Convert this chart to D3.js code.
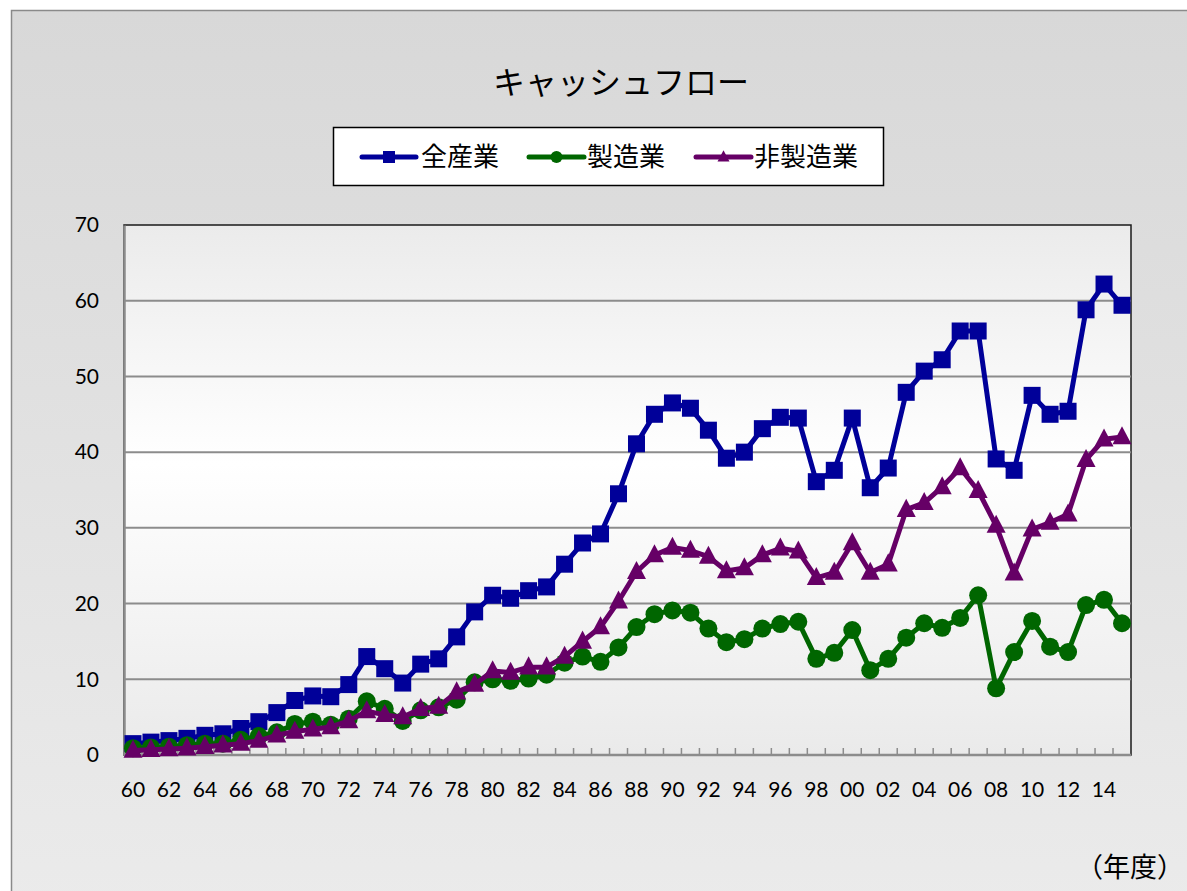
<!DOCTYPE html>
<html>
<head>
<meta charset="utf-8">
<script src="https://cdn.jsdelivr.net/npm/d3@7"></script>
<style>
  body { margin: 0; background: #ffffff; }
  svg { display: block; }
</style>
</head>
<body>
<script>
// 年度 1960 - 2015
const years = d3.range(1960, 2016);

const seriesNames = ["全産業", "製造業", "非製造業"];

const allIndustry = [
  1.5, 1.7, 1.9, 2.2, 2.6, 2.8, 3.5, 4.4, 5.6, 7.2,
  7.8, 7.7, 9.3, 13.0, 11.4, 9.5, 12.0, 12.7, 15.6, 18.9,
  21.1, 20.7, 21.7, 22.2, 25.2, 28.0, 29.2, 34.5, 41.1, 45.0,
  46.5, 45.8, 42.9, 39.2, 40.0, 43.1, 44.6, 44.5, 36.1, 37.6,
  44.5, 35.3, 37.9, 47.9, 50.7, 52.2, 56.0, 56.0, 39.1, 37.6,
  47.5, 45.0, 45.4, 58.8, 62.2, 59.4
];

const manufacturing = [
  0.9, 1.0, 1.1, 1.3, 1.5, 1.5, 2.0, 2.5, 3.0, 4.1,
  4.4, 4.0, 4.8, 7.1, 6.1, 4.5, 5.9, 6.3, 7.3, 9.6,
  10.0, 9.8, 10.1, 10.6, 12.2, 13.0, 12.3, 14.2, 16.9, 18.6,
  19.1, 18.8, 16.7, 14.9, 15.3, 16.7, 17.3, 17.6, 12.7, 13.5,
  16.5, 11.2, 12.7, 15.5, 17.4, 16.8, 18.1, 21.1, 8.8, 13.6,
  17.7, 14.3, 13.6, 19.8, 20.5, 17.4
];

const nonManufacturing = [
  0.6, 0.7, 0.8, 0.9, 1.1, 1.3, 1.5, 1.9, 2.6, 3.1,
  3.4, 3.7, 4.5, 5.8, 5.3, 5.0, 6.1, 6.4, 8.3, 9.3,
  11.1, 10.9, 11.6, 11.6, 13.0, 15.0, 16.9, 20.3, 24.2, 26.4,
  27.4, 27.0, 26.2, 24.3, 24.7, 26.4, 27.3, 26.9, 23.4, 24.1,
  28.0, 24.1, 25.2, 32.4, 33.3, 35.4, 37.9, 34.9, 30.3, 24.0,
  29.8, 30.7, 31.8, 39.0, 41.7, 42.0
];

const yTicks = [0, 10, 20, 30, 40, 50, 60, 70];

const width = 1187;
const height = 891;
const plot = { left: 124, right: 1131, top: 225, bottom: 755 };
const font = "Lato, 'Noto Sans CJK JP', sans-serif";
const jpFont = "'Noto Sans CJK JP', sans-serif";

const series = [
  { name: seriesNames[0], values: allIndustry, color: "#000099", marker: "square" },
  { name: seriesNames[1], values: manufacturing, color: "#006600", marker: "circle" },
  { name: seriesNames[2], values: nonManufacturing, color: "#660066", marker: "triangle" }
];

const svg = d3.select("body")
  .append("svg")
  .attr("width", width)
  .attr("height", height);

const defs = svg.append("defs");

const outerGrad = defs.append("linearGradient")
  .attr("id", "outerGrad")
  .attr("x1", 0).attr("y1", 0).attr("x2", 0).attr("y2", 1);
outerGrad.append("stop").attr("offset", "0%").attr("stop-color", "#d8d8d8");
outerGrad.append("stop").attr("offset", "100%").attr("stop-color", "#ececec");

const plotGrad = defs.append("linearGradient")
  .attr("id", "plotGrad")
  .attr("x1", 0).attr("y1", 0).attr("x2", 0).attr("y2", 1);
plotGrad.append("stop").attr("offset", "0%").attr("stop-color", "#ebebeb");
plotGrad.append("stop").attr("offset", "45%").attr("stop-color", "#ffffff");
plotGrad.append("stop").attr("offset", "100%").attr("stop-color", "#eaeaea");

// chart area
svg.append("rect")
  .attr("x", 11.5)
  .attr("y", 10.5)
  .attr("width", 1250)
  .attr("height", 950)
  .attr("fill", "url(#outerGrad)")
  .attr("stroke", "#8a8a8a")
  .attr("stroke-width", 1.5);

// title
svg.append("text")
  .attr("x", 621)
  .attr("y", 94)
  .attr("text-anchor", "middle")
  .attr("font-family", jpFont)
  .attr("font-size", 32)
  .attr("fill", "#000")
  .text("キャッシュフロー");

// scales
const x = d3.scaleBand()
  .domain(years)
  .range([plot.left, plot.right])
  .padding(0);

const y = d3.scaleLinear()
  .domain([0, 70])
  .range([plot.bottom, plot.top]);

const cx = d => x(d) + x.bandwidth() / 2;

// plot area
svg.append("rect")
  .attr("x", plot.left)
  .attr("y", plot.top)
  .attr("width", plot.right - plot.left)
  .attr("height", plot.bottom - plot.top)
  .attr("fill", "url(#plotGrad)")
  .attr("stroke", "#1a1a1a")
  .attr("stroke-width", 1.5);

// gridlines
svg.append("g")
  .selectAll("line")
  .data(yTicks.filter(t => t > 0 && t < 70))
  .enter()
  .append("line")
  .attr("x1", plot.left)
  .attr("x2", plot.right)
  .attr("y1", d => y(d))
  .attr("y2", d => y(d))
  .attr("stroke", "#8c8c8c")
  .attr("stroke-width", 2);

// y axis
const yAxis = d3.axisLeft(y)
  .tickValues(yTicks)
  .tickSize(0)
  .tickPadding(25)
  .tickFormat(d3.format("d"));

const yAxisG = svg.append("g")
  .attr("transform", `translate(${plot.left},0)`)
  .call(yAxis);
yAxisG.select(".domain").attr("stroke", "#8c8c8c").attr("stroke-width", 2.5);
yAxisG.selectAll("text")
  .attr("font-family", font)
  .attr("font-size", 21)
  .attr("fill", "#000");

// x axis: inside ticks at category boundaries
const xAxisG = svg.append("g")
  .attr("transform", `translate(0,${plot.bottom})`);

xAxisG.selectAll(".tick-mark")
  .data(years.slice(1))
  .enter()
  .append("line")
  .attr("class", "tick-mark")
  .attr("x1", d => x(d))
  .attr("x2", d => x(d))
  .attr("y1", 0)
  .attr("y2", -7)
  .attr("stroke", "#8c8c8c")
  .attr("stroke-width", 1.5);

xAxisG.append("line")
  .attr("x1", plot.left)
  .attr("x2", plot.right)
  .attr("stroke", "#8c8c8c")
  .attr("stroke-width", 2.5);

xAxisG.selectAll(".xlabel")
  .data(years.filter((d, i) => i % 2 === 0))
  .enter()
  .append("text")
  .attr("class", "xlabel")
  .attr("x", d => cx(d))
  .attr("y", 42)
  .attr("text-anchor", "middle")
  .attr("font-family", font)
  .attr("font-size", 21)
  .attr("fill", "#000")
  .text(d => String(d).slice(2));

// markers
function drawMarker(g, type, px, py, size, color) {
  if (type === "square") {
    g.append("rect")
      .attr("x", px - size / 2)
      .attr("y", py - size / 2)
      .attr("width", size)
      .attr("height", size)
      .attr("fill", color);
  } else if (type === "circle") {
    g.append("circle")
      .attr("cx", px)
      .attr("cy", py)
      .attr("r", size / 2)
      .attr("fill", color);
  } else {
    const h = size * 0.95;
    g.append("path")
      .attr("d", `M${px},${py - h * 0.6}L${px + size / 2},${py + h * 0.4}L${px - size / 2},${py + h * 0.4}Z`)
      .attr("fill", color);
  }
}

const line = d3.line()
  .x((d, i) => cx(years[i]))
  .y(d => y(d));

const markerSize = { square: 17, circle: 18, triangle: 19 };

series.forEach(s => {
  const g = svg.append("g");
  g.append("path")
    .datum(s.values)
    .attr("d", line)
    .attr("fill", "none")
    .attr("stroke", s.color)
    .attr("stroke-width", 5)
    .attr("stroke-linejoin", "round");
  s.values.forEach((v, i) => {
    drawMarker(g, s.marker, cx(years[i]), y(v), markerSize[s.marker], s.color);
  });
});

// legend
const legend = svg.append("g");
legend.append("rect")
  .attr("x", 333.5)
  .attr("y", 127.5)
  .attr("width", 550)
  .attr("height", 58)
  .attr("fill", "#ffffff")
  .attr("stroke", "#000")
  .attr("stroke-width", 1.5);

const legendItems = [
  { x0: 362, x1: 416, tx: 421 },
  { x0: 529, x1: 584, tx: 587 },
  { x0: 696, x1: 751, tx: 754 }
];

series.forEach((s, i) => {
  const li = legendItems[i];
  legend.append("line")
    .attr("x1", li.x0)
    .attr("x2", li.x1)
    .attr("y1", 157)
    .attr("y2", 157)
    .attr("stroke", s.color)
    .attr("stroke-width", 5)
    .attr("stroke-linecap", "round");
  drawMarker(legend, s.marker, (li.x0 + li.x1) / 2, 157, 12, s.color);
  legend.append("text")
    .attr("x", li.tx)
    .attr("y", 166)
    .attr("font-family", jpFont)
    .attr("font-size", 26)
    .attr("fill", "#000")
    .text(s.name);
});

// unit label
svg.append("text")
  .attr("x", 1130)
  .attr("y", 877)
  .attr("text-anchor", "middle")
  .attr("font-family", jpFont)
  .attr("font-size", 27)
  .attr("fill", "#000")
  .text("（年度）");
</script>
</body>
</html>
